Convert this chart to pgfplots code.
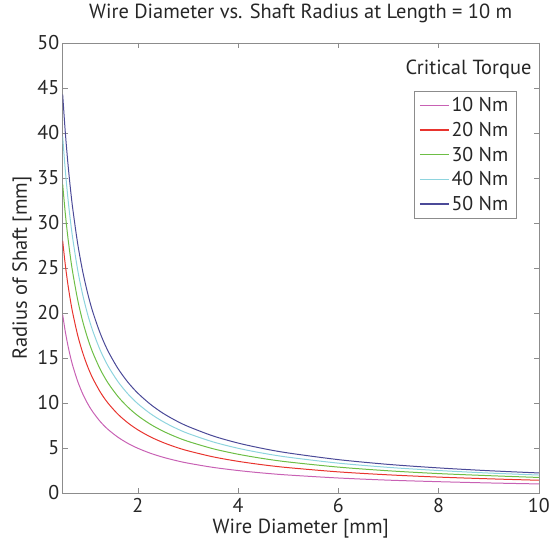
\documentclass[border={9bp 7bp 0bp 1bp}]{standalone}
\usepackage{pgfplots}
\pgfplotsset{compat=1.18}
\usepackage{pgfplotstable}
\usepackage{fontspec}
\setmainfont{PT Sans}
\definecolor{c10}{HTML}{C861B4}
\definecolor{c20}{HTML}{E8342E}
\definecolor{c30}{HTML}{6DBE45}
\definecolor{c40}{HTML}{8ED4DE}
\definecolor{c50}{HTML}{4B4A98}
\definecolor{axgray}{HTML}{8C8C8C}
\definecolor{txt}{HTML}{262626}
\pgfplotstableread{
x a b c d e
0.5 19.80 28.00 34.29 39.60 44.27
0.55 18.00 25.46 31.18 36.00 40.25
0.6 16.50 23.33 28.58 33.00 36.90
0.65 15.23 21.54 26.38 30.46 34.06
0.7 14.14 20.00 24.50 28.29 31.62
0.8 12.38 17.50 21.43 24.75 27.67
0.9 11.00 15.56 19.05 22.00 24.60
1.0 9.90 14.00 17.15 19.80 22.14
1.1 9.00 12.73 15.59 18.00 20.12
1.25 7.92 11.20 13.72 15.84 17.71
1.4 7.07 10.00 12.25 14.14 15.81
1.6 6.19 8.75 10.72 12.38 13.84
1.8 5.50 7.78 9.53 11.00 12.30
2 4.95 7.00 8.57 9.90 11.07
2.25 4.40 6.22 7.62 8.80 9.84
2.5 3.96 5.60 6.86 7.92 8.85
2.75 3.60 5.09 6.24 7.20 8.05
3 3.30 4.67 5.72 6.60 7.38
3.5 2.83 4.00 4.90 5.66 6.32
4 2.48 3.50 4.29 4.95 5.53
4.5 2.20 3.11 3.81 4.40 4.92
5 1.98 2.80 3.43 3.96 4.43
6 1.65 2.33 2.86 3.30 3.69
7 1.41 2.00 2.45 2.83 3.16
8 1.24 1.75 2.14 2.48 2.77
9 1.10 1.56 1.91 2.20 2.46
10 0.99 1.40 1.71 1.98 2.21
}\data
\begin{document}
\begin{tikzpicture}
\begin{axis}[
  scale only axis,
  width=476bp, height=450bp,
  xmin=0.5, xmax=10, ymin=0, ymax=50,
  xtick={2,4,6,8,10},
  ytick={0,5,...,50},
  axis line style={axgray},
  tick style={axgray, major tick length=5bp},
  /pgf/number format/assume math mode=true,
  tick label style={font=\fontsize{20}{24}\selectfont, text=txt},
  xticklabel style={yshift=-2bp},
  label style={font=\fontsize{20.5}{24}\selectfont, text=txt},
  title style={font=\fontsize{20.5}{24}\selectfont, text=txt, yshift=10bp},
  title={Wire Diameter vs. Shaft Radius at Length = 10 m},
  xlabel={Wire Diameter [mm]},
  ylabel={Radius of Shaft [mm]},
  xlabel style={yshift=1bp},
  ylabel style={yshift=-1bp},
  legend style={at={(0.952,0.893)}, anchor=north east, draw=axgray,
    font=\fontsize{20}{24}\selectfont,
    nodes={text=txt, inner ysep=1.5bp},
    row sep=6bp, inner xsep=5.5bp, inner ysep=5bp},
  legend cell align=left,
  legend image code/.code={\draw[#1, line width=1.4pt] (0bp,0bp) -- (29bp,0bp);},
  every axis plot/.append style={line width=1pt, smooth},
]
\addplot[c10] table[x=x,y=a]{\data};
\addplot[c20] table[x=x,y=b]{\data};
\addplot[c30] table[x=x,y=c]{\data};
\addplot[c40] table[x=x,y=d]{\data};
\addplot[c50] table[x=x,y=e]{\data};
\legend{10 Nm,20 Nm,30 Nm,40 Nm,50 Nm}
\node[anchor=east, font=\fontsize{20.5}{24}\selectfont, text=txt] at (rel axis cs:0.992,0.942) {Critical Torque};
\end{axis}
\end{tikzpicture}
\end{document}
